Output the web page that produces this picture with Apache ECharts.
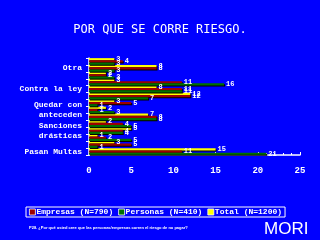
<!DOCTYPE html>
<html><head><meta charset="utf-8">
<script src="https://cdn.jsdelivr.net/npm/echarts@6/dist/echarts.min.js"></script>
<style>html,body{margin:0;padding:0;background:#0000ff;}#c{width:320px;height:240px;}</style>
</head><body><div id="c"></div>
<script>
// categories, top to bottom (unlabeled rows are blank in the original)
const categories = ['', 'Otra', '', '', 'Contra la ley', '', '', 'Quedar con\nanteceden', '', '', 'Sanciones\ndrásticas', '', '', 'Pasan Multas'];
const totalVals    = [3, 8, 2, 3, 8, 12, 3, 2, 7, 2, 5, 1, 3, 15];
const empresasVals = [4, 8, 2, 11, 11, 12, 5, 1, 8, 4, 4, 2, 5, 11];
const personasVals = [3, 3, 3, 16, 11, 7, 1, 3, 8, 5, 4, 5, 1, 21];
const seriesNames = ['Empresas (N=790)', 'Personas (N=410)', 'Total (N=1200)'];
const xTicks = [0, 5, 10, 15, 20, 25];

const chart = echarts.init(document.getElementById('c'), null, {renderer: 'canvas'});
const mono = 'Liberation Mono';
const lbl = {show: true, position: 'right', color: '#fff', fontSize: 7, fontFamily: mono, fontWeight: 'bold', distance: 2};
function bar(name, data, color) {
  return {
    name, type: 'bar', data, barGap: '0%', barCategoryGap: '4%',
    itemStyle: {color, borderWidth: 0, shadowColor: '#000', shadowOffsetY: 1, shadowOffsetX: 1, shadowBlur: 0},
    label: lbl
  };
}
chart.setOption({
  backgroundColor: '#0000ff',
  animation: false,
  title: {
    text: 'POR QUE SE CORRE RIESGO.', left: 'center', top: 19,
    textStyle: {color: '#fff', fontSize: 12, fontWeight: 'normal', fontFamily: 'DejaVu Sans Mono'}
  },
  legend: {
    data: seriesNames, left: 26, top: 207, width: 254,
    borderColor: '#fff', borderWidth: 1, padding: [1, 3], itemGap: 5,
    icon: 'rect', itemWidth: 6, itemHeight: 6,
    itemStyle: {borderColor: '#fff', borderWidth: 0.8, shadowBlur: 0, shadowOffsetX: 0, shadowOffsetY: 0},
    textStyle: {color: '#fff', fontSize: 8, fontFamily: mono, fontWeight: 'bold', padding: [0, 0, 0, -4]}
  },
  grid: {left: 89, right: 20, top: 58, bottom: 85},
  xAxis: {
    type: 'value', min: xTicks[0], max: xTicks[xTicks.length - 1], interval: 5,
    axisLine: {show: true, lineStyle: {color: '#fff', width: 1.5}},
    axisTick: {show: true, inside: true, length: 3, lineStyle: {color: '#fff'}},
    minorTick: {show: true, splitNumber: 5, length: 2, lineStyle: {color: '#fff'}},
    splitLine: {show: false},
    axisLabel: {color: '#fff', fontSize: 9, fontFamily: mono, fontWeight: 'bold', margin: 11}
  },
  yAxis: {
    type: 'category', data: categories, inverse: true,
    axisLine: {show: true, lineStyle: {color: '#fff', width: 1.5}},
    axisTick: {show: true, length: 3, lineStyle: {color: '#fff'}},
    axisLabel: {color: '#fff', fontSize: 8, fontFamily: mono, fontWeight: 'bold', interval: 0, margin: 7, lineHeight: 10, align: 'right'}
  },
  series: [
    bar(seriesNames[2], totalVals, '#ffff00'),
    bar(seriesNames[0], empresasVals, '#9b0000'),
    bar(seriesNames[1], personasVals, '#007000')
  ],
  graphic: [
    {type: 'text', left: 29, top: 226, style: {text: 'P28. ¿Por qué usted cree que las personas/empresas corren el riesgo de no pagar?', fill: '#fff', fontSize: 4, fontFamily: 'Liberation Sans', fontWeight: 'bold'}},
    {type: 'text', left: 264, top: 221, style: {text: 'MORI', fill: '#fff', fontSize: 17, fontFamily: 'Liberation Sans'}}
  ]
});
</script></body></html>
